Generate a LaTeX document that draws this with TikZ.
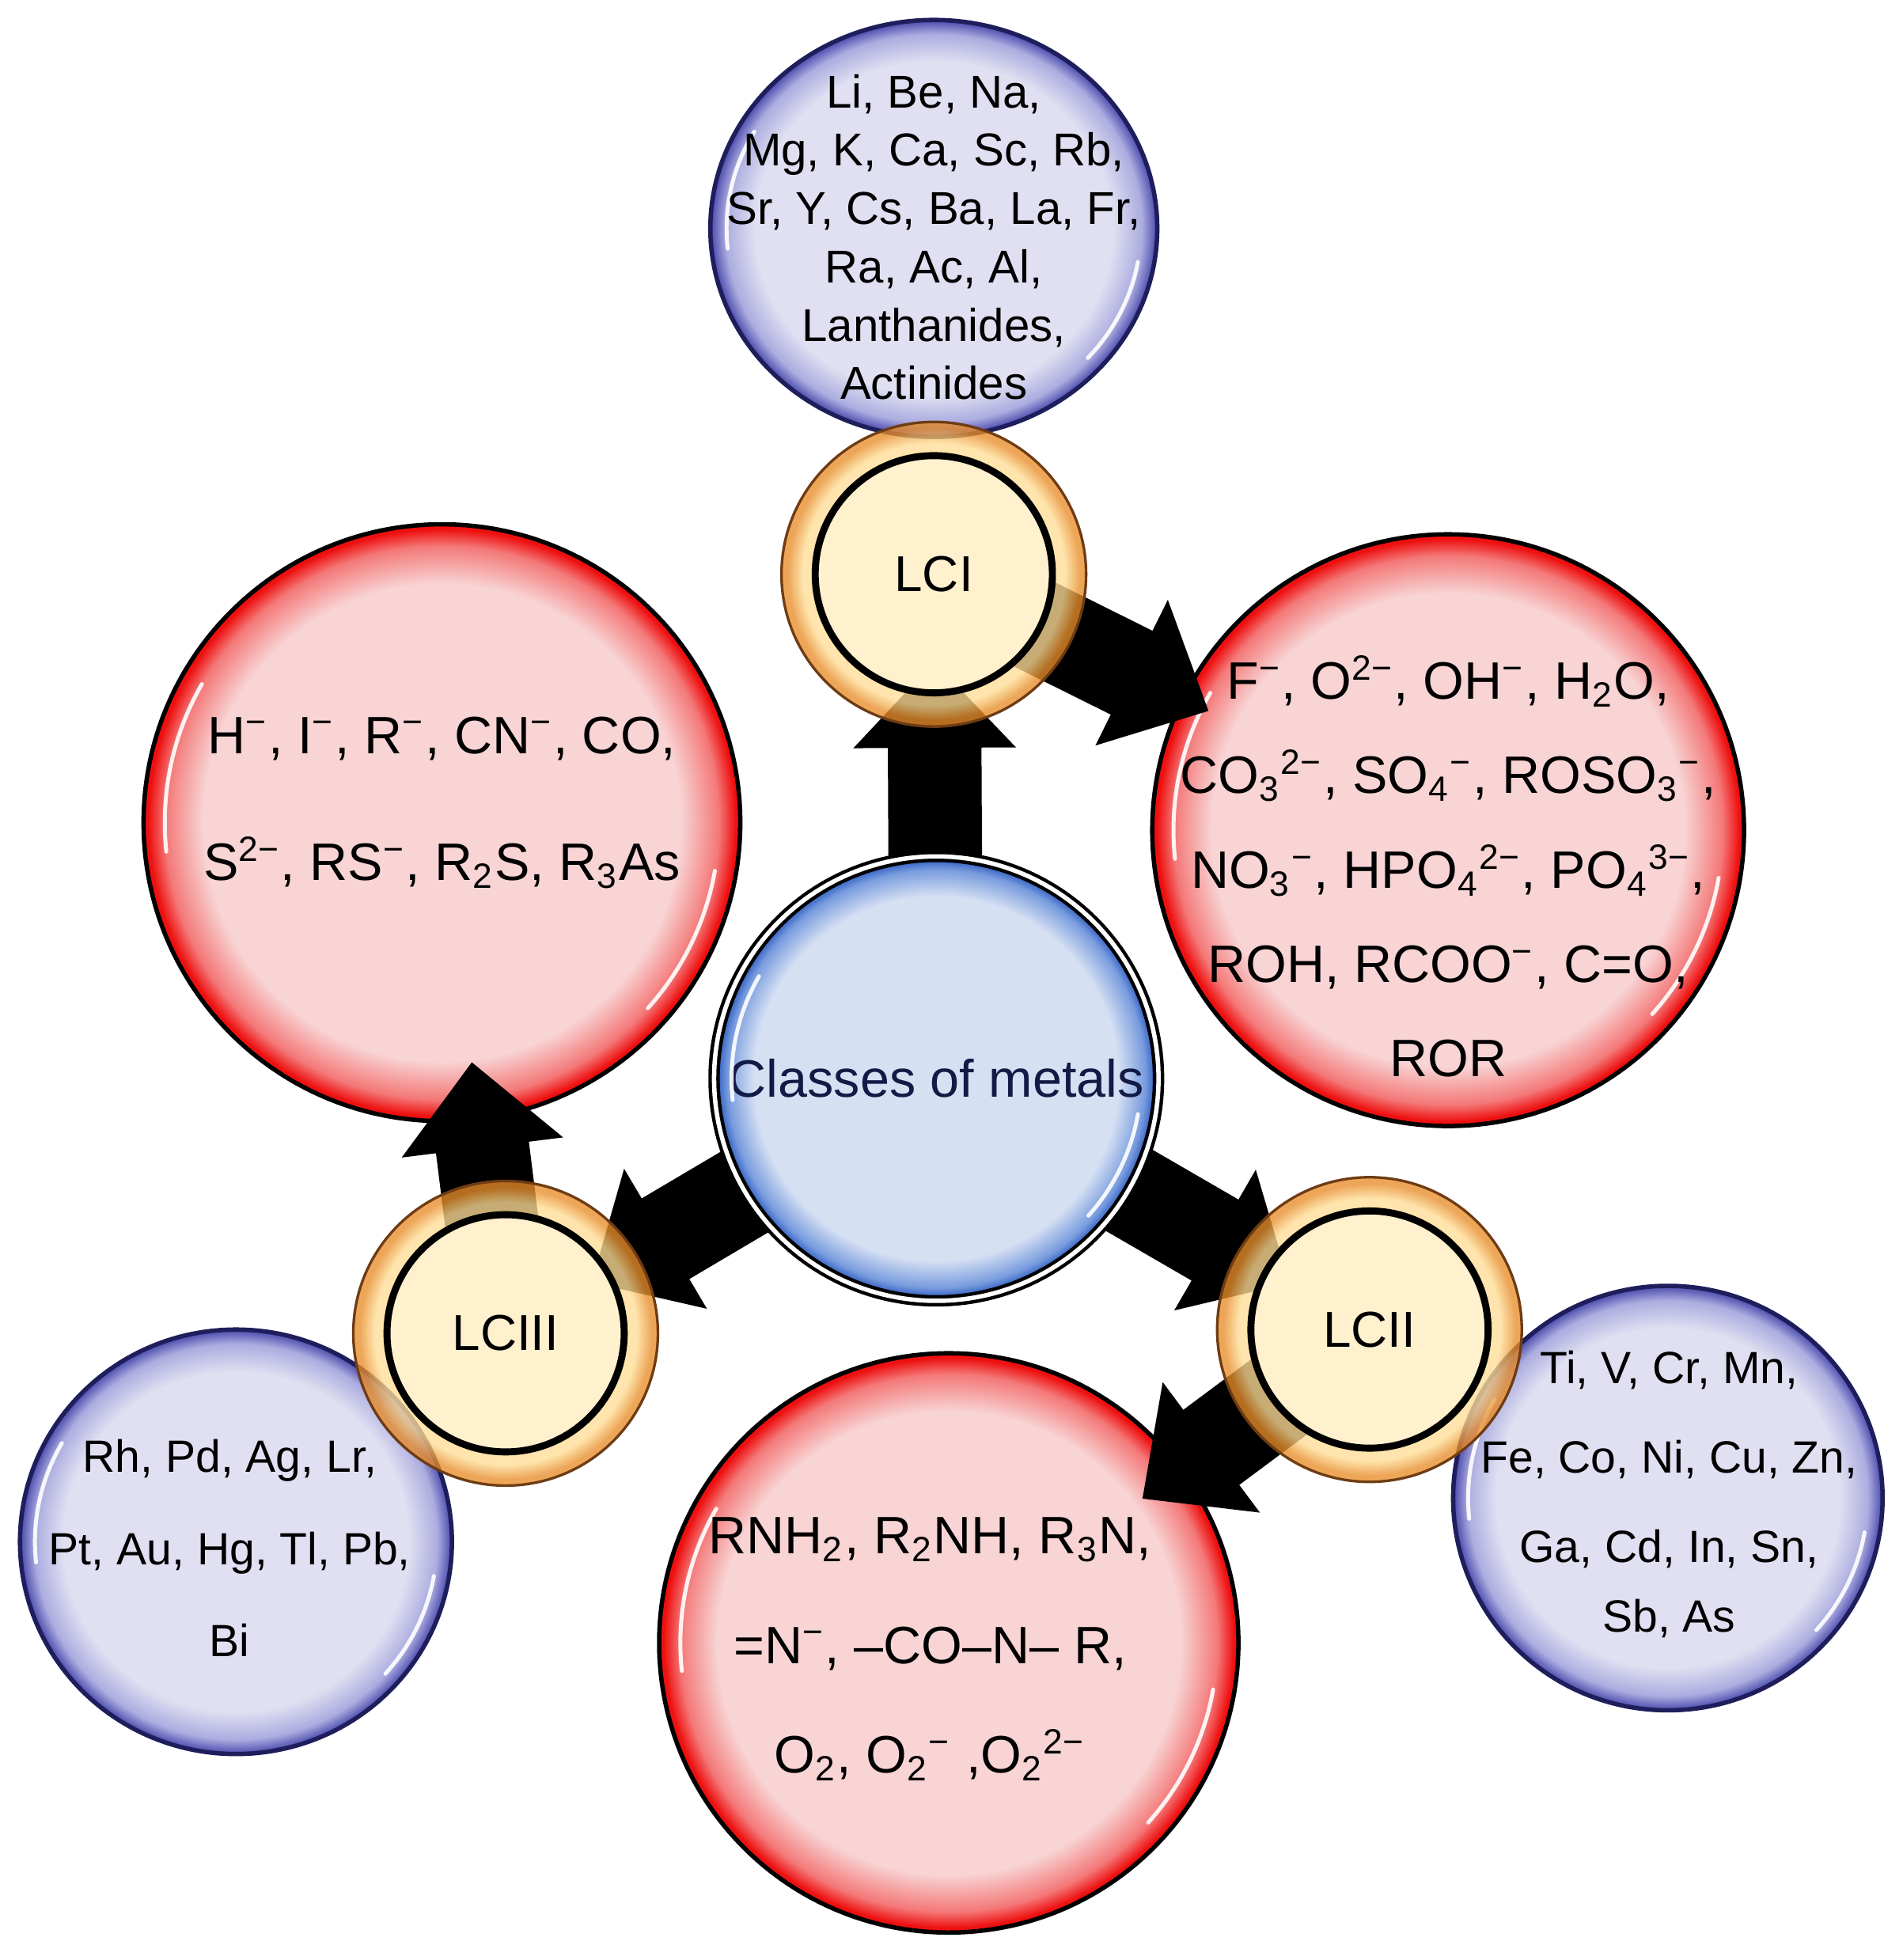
\documentclass[tikz,border=0pt]{standalone}
\usepackage{fontspec}
\setmainfont{Liberation Sans}
\usetikzlibrary{arrows.meta,shapes.geometric,calc}

\definecolor{pinkin}{RGB}{248,212,212}
\definecolor{redmid}{RGB}{244,120,120}
\definecolor{redrim}{RGB}{238,16,16}
\definecolor{lavin}{RGB}{224,224,242}
\definecolor{lavmid}{RGB}{172,172,224}
\definecolor{bluerim}{RGB}{72,72,172}
\definecolor{blueedge}{RGB}{30,30,92}
\definecolor{skyin}{RGB}{214,224,243}
\definecolor{skymid}{RGB}{120,156,222}
\definecolor{skyrim}{RGB}{28,76,186}
\definecolor{creamin}{RGB}{255,241,206}
\definecolor{ringlight}{RGB}{255,222,150}
\definecolor{ringdark}{RGB}{232,140,40}
\definecolor{ringedge}{RGB}{110,60,20}
\definecolor{navytext}{RGB}{18,26,70}

% the path edge sits at 25bp of a shading
\pgfdeclareradialshading{redball}{\pgfpointorigin}{color(0bp)=(pinkin); color(20bp)=(pinkin); color(23.2bp)=(redmid); color(24.6bp)=(redrim); color(50bp)=(redrim)}
\pgfdeclareradialshading{blueball}{\pgfpointorigin}{color(0bp)=(lavin); color(20bp)=(lavin); color(23.3bp)=(lavmid); color(25bp)=(bluerim); color(50bp)=(bluerim)}
\pgfdeclareradialshading{coreball}{\pgfpointorigin}{color(0bp)=(skyin); color(20.5bp)=(skyin); color(23.5bp)=(skymid); color(25bp)=(skyrim); color(50bp)=(skyrim)}
\pgfdeclareradialshading{ringball}{\pgfpointorigin}{color(0bp)=(ringlight); color(21.5bp)=(ringlight); color(24bp)=(ringdark); color(50bp)=(ringdark)}

\tikzset{
  redcirc/.style={circle, draw=black, line width=1pt, shading=redball, minimum size=#1, inner sep=0pt},
  bluecirc/.style={ellipse, draw=blueedge, line width=1pt, shading=blueball, inner sep=0pt},
  ringcirc/.style={circle, draw=ringedge, line width=0.6pt, shading=ringball, fill opacity=0.78, minimum size=2.44cm, inner sep=0pt},
  corecirc/.style={circle, draw=black, line width=1.6pt, fill=creamin, minimum size=1.9cm, inner sep=0pt, font=\fontsize{11.5}{14}\selectfont},
  metalcirc/.style={circle, shading=coreball, draw=black, line width=0.8pt, double=white, double distance=1pt, minimum size=3.56cm, inner sep=0pt, text=navytext, font=\fontsize{12}{14}\selectfont},
  redtxt/.style={align=center, font=\fontsize{12}{#1}\selectfont},
  bluetxt/.style={align=center, font=\fontsize{10.3}{#1}\selectfont},
  bigarrow/.style={line width=7.5mm, -{Triangle[width=12.6mm,length=6.9mm]}},
  gloss/.style={white, line width=0.9pt, opacity=0.9, line cap=round}
}

% two white highlight arcs inside a round node
\newcommand{\glossy}[3]{%
  \draw[gloss] ([shift={(150:#2 and #3)}]#1.center) arc[start angle=150, end angle=186, x radius=#2, y radius=#3];
  \draw[gloss] ([shift={(-10:#2 and #3)}]#1.center) arc[start angle=-10, end angle=-42, x radius=#2, y radius=#3];}

\begin{document}
\begin{tikzpicture}
  \path[use as bounding box, fill=white] (0,0) rectangle (15.24,15.70);

  % metals
  \node[bluecirc, minimum width=3.58cm, minimum height=3.34cm] (mI) at (7.48,13.87) {};
  \node[bluecirc, minimum width=3.44cm, minimum height=3.40cm] (mII) at (13.36,3.70) {};
  \node[bluecirc, minimum width=3.46cm, minimum height=3.40cm] (mIII) at (1.89,3.35) {};
  % ligands
  \node[redcirc=4.74cm] (lI) at (11.60,9.05) {};
  \node[redcirc=4.64cm] (lII) at (7.60,2.54) {};
  \node[redcirc=4.78cm] (lIII) at (3.54,9.11) {};

  \glossy{mI}{1.66}{1.55}
  \glossy{mII}{1.60}{1.58}
  \glossy{mIII}{1.61}{1.58}
  \glossy{lI}{2.20}{2.20}
  \glossy{lII}{2.15}{2.15}
  \glossy{lIII}{2.22}{2.22}

  \node[bluetxt=13.3pt, font=\fontsize{10.5}{13.3}\selectfont] (mItxt) at (7.48,13.80)
    {Li, Be, Na,\\Mg, K, Ca, Sc, Rb,\\Sr, Y, Cs, Ba, La, Fr,\\Ra, Ac, Al,\\Lanthanides,\\Actinides};
  \node[bluetxt=20.4pt] (mIItxt) at (13.37,3.73)
    {Ti, V, Cr, Mn,\\Fe, Co, Ni, Cu, Zn,\\Ga, Cd, In, Sn,\\[-4.5pt]Sb, As};
  \node[bluetxt=21pt] (mIIItxt) at (1.84,3.30)
    {Rh, Pd, Ag, Lr,\\Pt, Au, Hg, Tl, Pb,\\Bi};
  \node[redtxt=21.5pt] (lItxt) at (11.60,8.76)
    {F\textsuperscript{−}, O\textsuperscript{2−}, OH\textsuperscript{−}, H\textsubscript{2}O,\\
     CO\textsubscript{3}\textsuperscript{2−}, SO\textsubscript{4}\textsuperscript{−}, ROSO\textsubscript{3}\textsuperscript{−},\\
     NO\textsubscript{3}\textsuperscript{−}, HPO\textsubscript{4}\textsuperscript{2−}, PO\textsubscript{4}\textsuperscript{3−},\\
     ROH, RCOO\textsuperscript{−}, C=O,\\
     ROR};
  \node[redtxt=25pt] (lIItxt) at (7.45,2.49)
    {RNH\textsubscript{2}, R\textsubscript{2}NH, R\textsubscript{3}N,\\
     =N\textsuperscript{−}, –CO–N– R,\\
     O\textsubscript{2}, O\textsubscript{2}\textsuperscript{−} ,O\textsubscript{2}\textsuperscript{2−}};
  \node[redtxt=29pt] (lIIItxt) at (3.54,9.27)
    {H\textsuperscript{−}, I\textsuperscript{−}, R\textsuperscript{−}, CN\textsuperscript{−}, CO,\\
     S\textsuperscript{2−}, RS\textsuperscript{−}, R\textsubscript{2}S, R\textsubscript{3}As};

  \coordinate (core) at (7.50,7.06);
  \coordinate (p1) at (7.48,11.10);
  \coordinate (p2) at (10.97,5.05);
  \coordinate (p3) at (4.05,5.02);

  \draw[bigarrow] (core) -- ($(core)!3.34cm!(p1)$);
  \draw[bigarrow] (core) -- ($(core)!3.27cm!(p2)$);
  \draw[bigarrow] (core) -- ($(core)!3.21cm!(p3)$);
  \draw[bigarrow] (p1) -- ($(p1)!2.46cm!(lI)$);
  \draw[bigarrow] (p2) -- ($(p2)!2.27cm!(lII)$);
  \draw[bigarrow] (p3) -- ($(p3)!2.19cm!(lIII)$);

  \node[ringcirc] (r1) at (p1) {};
  \node[ringcirc] (r2) at (p2) {};
  \node[ringcirc] (r3) at (p3) {};
  \node[corecirc] (lc1) at (p1) {LCI};
  \node[corecirc] (lc2) at (p2) {LCII};
  \node[corecirc] (lc3) at (p3) {LCIII};

  \node[metalcirc] (metals) at (core) {Classes of metals};
  \glossy{metals}{1.64}{1.64}
\end{tikzpicture}
\end{document}
